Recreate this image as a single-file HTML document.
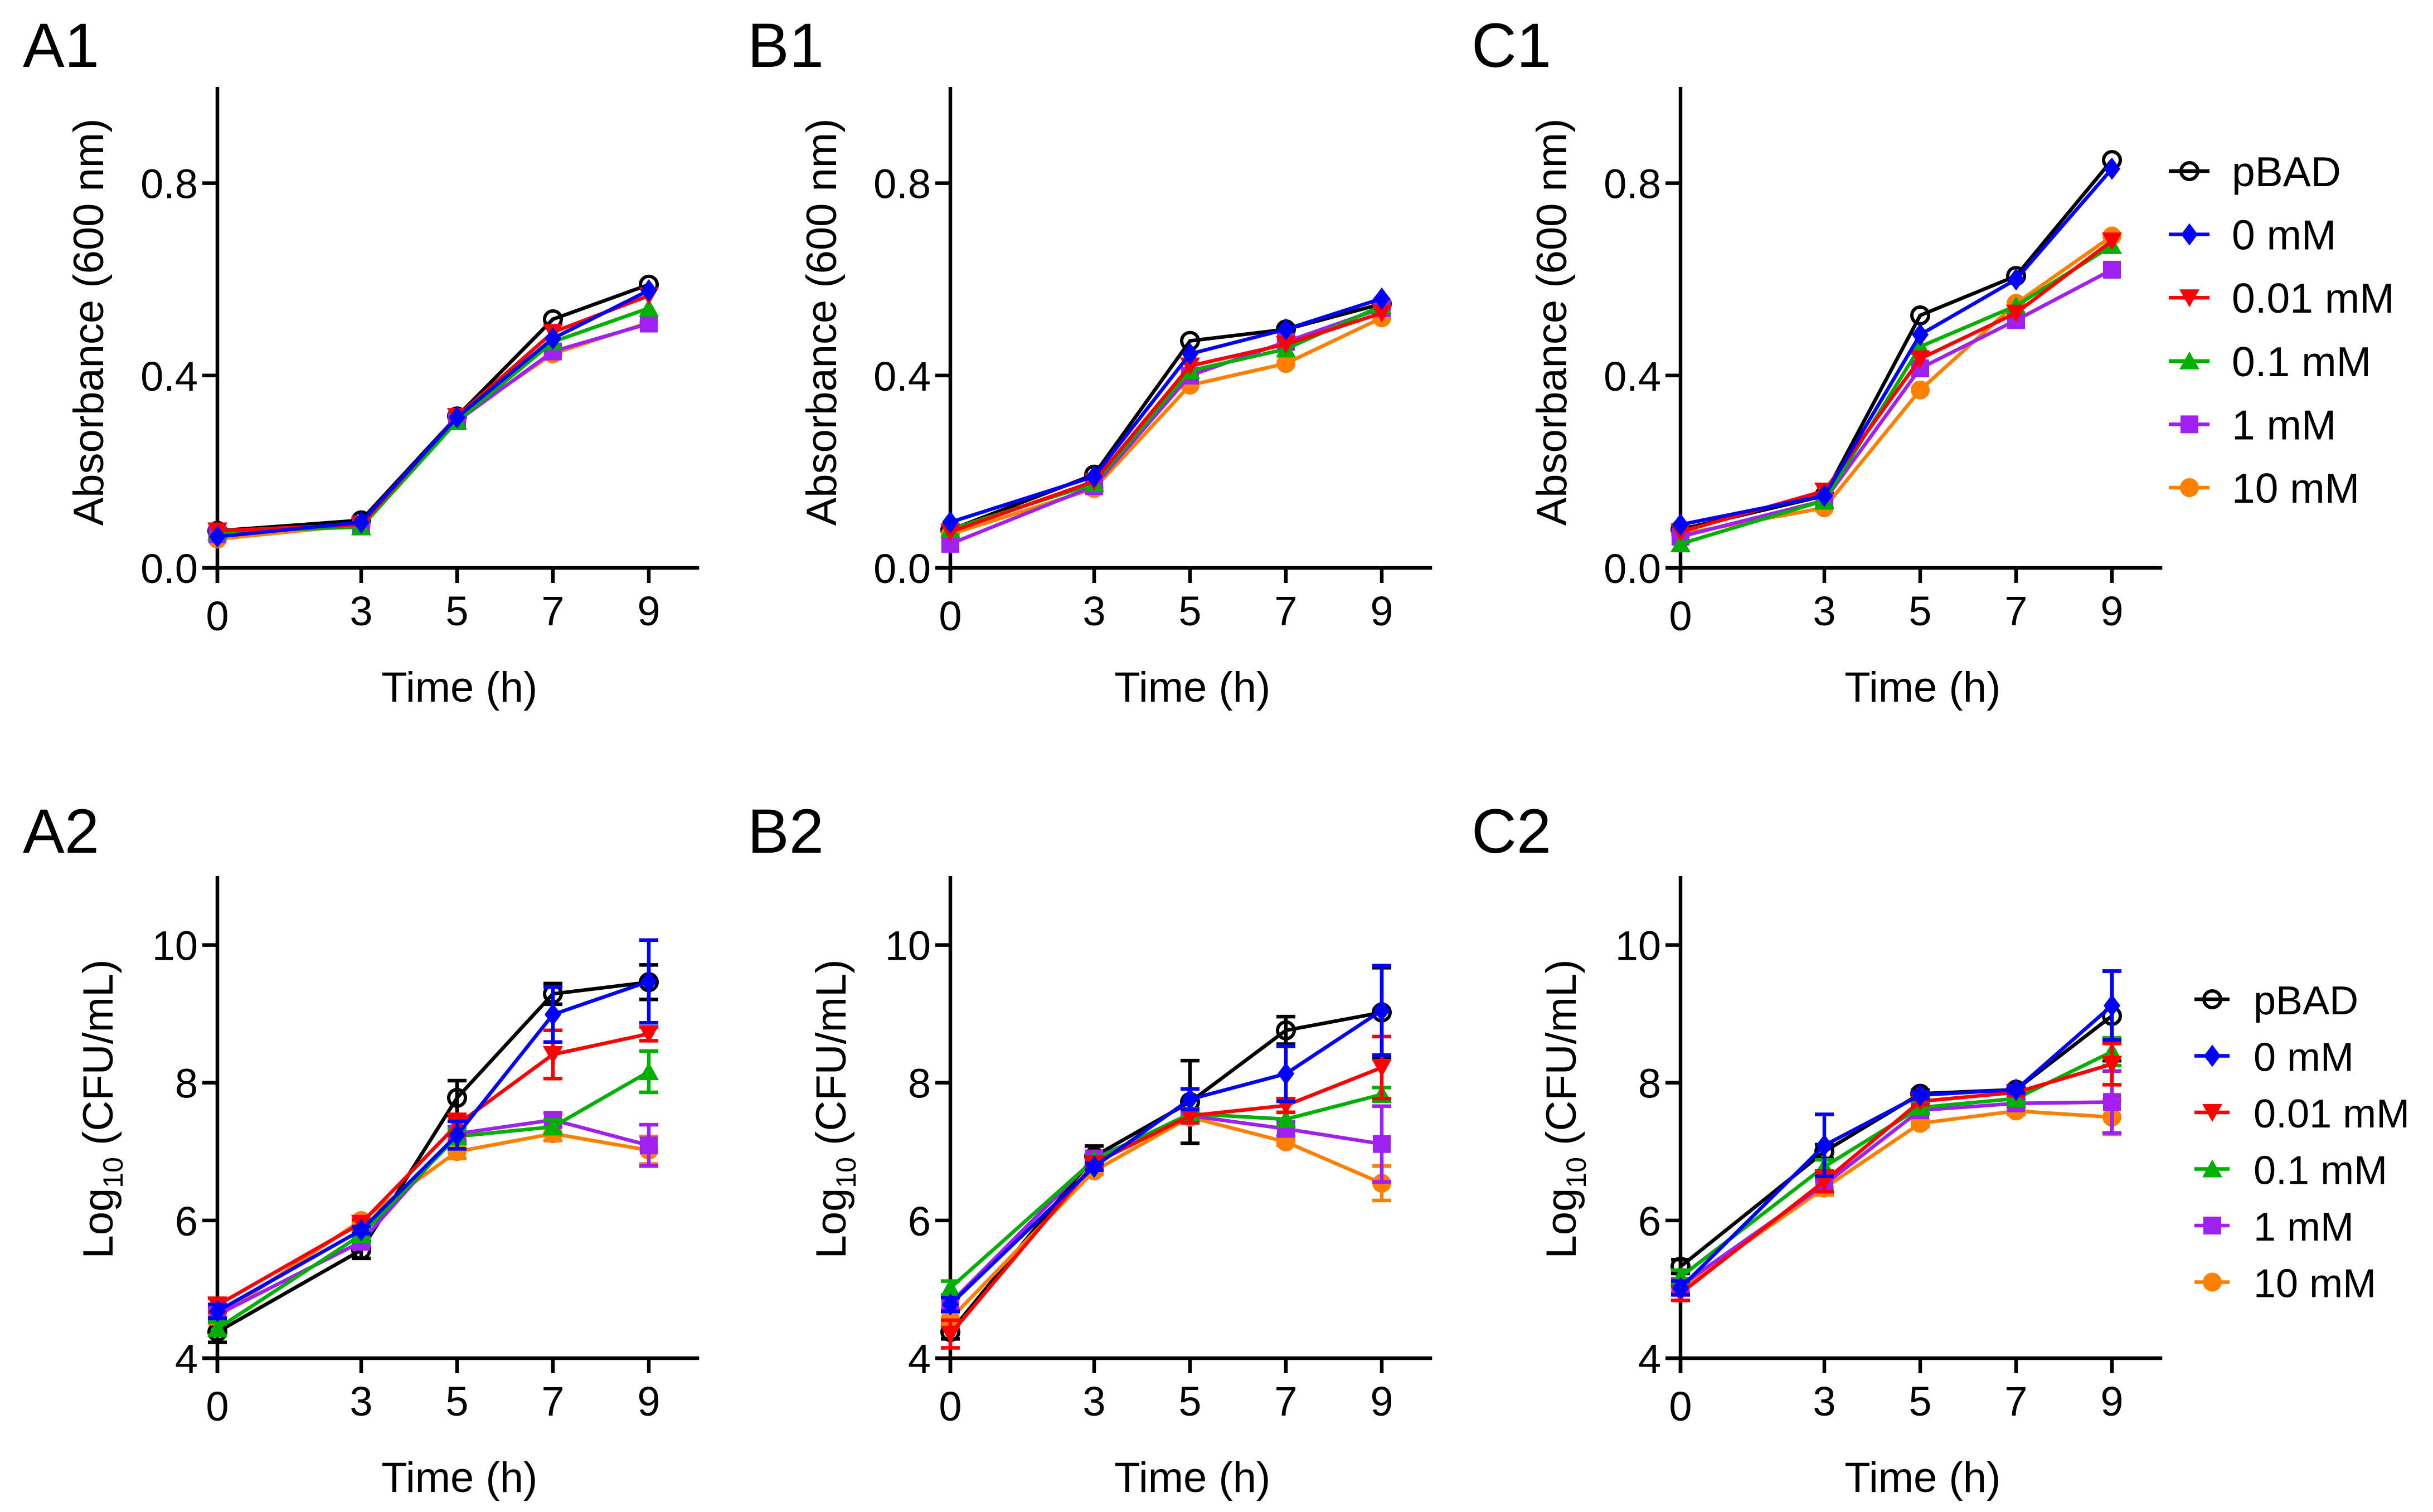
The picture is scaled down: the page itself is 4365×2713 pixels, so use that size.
<!DOCTYPE html>
<html><head><meta charset="utf-8"><style>
html,body{margin:0;padding:0;background:#fff;}
svg{display:block;font-family:"Liberation Sans",Arial,sans-serif;}
</style></head><body>
<svg id="fig" width="4365" height="2713" viewBox="0 0 4365 2713" xmlns="http://www.w3.org/2000/svg"></svg>
<script>
const times = [0, 3, 5, 7, 9];
const seriesNames = ["pBAD", "0 mM", "0.01 mM", "0.1 mM", "1 mM", "10 mM"];
const absTicks = ["0.0", "0.4", "0.8"];
const absTickValues = [0, 0.4, 0.8];
const cfuTickValues = [4, 6, 8, 10];
const xTickLabels = ["0", "3", "5", "7", "9"];

// A1 absorbance
const a1_pBAD = [0.077, 0.099, 0.315, 0.517, 0.589];
const a1_0 = [0.065, 0.095, 0.313, 0.477, 0.577];
const a1_001 = [0.077, 0.090, 0.315, 0.490, 0.566];
const a1_01 = [0.075, 0.085, 0.305, 0.470, 0.540];
const a1_1 = [0.070, 0.090, 0.305, 0.450, 0.508];
const a1_10 = [0.060, 0.090, 0.310, 0.445, 0.510];
// B1
const b1_pBAD = [0.079, 0.194, 0.472, 0.496, 0.549];
const b1_0 = [0.095, 0.190, 0.445, 0.496, 0.560];
const b1_001 = [0.075, 0.180, 0.420, 0.465, 0.530];
const b1_01 = [0.080, 0.175, 0.410, 0.455, 0.545];
const b1_1 = [0.050, 0.170, 0.400, 0.470, 0.540];
const b1_10 = [0.070, 0.165, 0.380, 0.425, 0.520];
// C1
const c1_pBAD = [0.080, 0.150, 0.525, 0.607, 0.848];
const c1_0 = [0.090, 0.150, 0.485, 0.600, 0.830];
const c1_001 = [0.075, 0.160, 0.435, 0.530, 0.680];
const c1_01 = [0.050, 0.140, 0.460, 0.545, 0.670];
const c1_1 = [0.065, 0.140, 0.415, 0.515, 0.620];
const c1_10 = [0.070, 0.125, 0.370, 0.550, 0.690];
// A2 log CFU
const a2_pBAD = [4.38, 5.57, 7.78, 9.29, 9.46];
const a2_0 = [4.68, 5.86, 7.24, 8.99, 9.47];
const a2_001 = [4.77, 5.96, 7.39, 8.41, 8.71];
const a2_01 = [4.43, 5.79, 7.22, 7.36, 8.16];
const a2_1 = [4.63, 5.69, 7.26, 7.46, 7.09];
const a2_10 = [4.60, 6.00, 7.00, 7.26, 7.02];
const a2e_pBAD = [0.15, 0.12, 0.25, 0.15, 0.25];
const a2e_0 = [0.10, 0.05, 0.20, 0.40, 0.60];
const a2e_001 = [0.10, 0.05, 0.15, 0.35, 0.10];
const a2e_01 = [0.10, 0.05, 0.10, 0.10, 0.30];
const a2e_1 = [0.10, 0.05, 0.10, 0.10, 0.30];
const a2e_10 = [0.10, 0.05, 0.10, 0.10, 0.20];
// B2
const b2_pBAD = [4.38, 6.93, 7.72, 8.76, 9.02];
const b2_0 = [4.78, 6.78, 7.76, 8.13, 9.05];
const b2_001 = [4.35, 6.83, 7.52, 7.67, 8.22];
const b2_01 = [5.02, 6.88, 7.55, 7.47, 7.83];
const b2_1 = [4.80, 6.90, 7.52, 7.33, 7.11];
const b2_10 = [4.57, 6.72, 7.50, 7.14, 6.54];
const b2e_pBAD = [0.10, 0.15, 0.60, 0.20, 0.65];
const b2e_0 = [0.10, 0.05, 0.15, 0.40, 0.65];
const b2e_001 = [0.20, 0.05, 0.10, 0.10, 0.45];
const b2e_01 = [0.10, 0.05, 0.05, 0.10, 0.10];
const b2e_1 = [0.10, 0.05, 0.05, 0.10, 0.55];
const b2e_10 = [0.10, 0.05, 0.05, 0.05, 0.25];
// C2
const c2_pBAD = [5.33, 7.00, 7.84, 7.90, 8.97];
const c2_0 = [5.02, 7.09, 7.82, 7.90, 9.12];
const c2_001 = [4.94, 6.57, 7.73, 7.86, 8.27];
const c2_01 = [5.18, 6.78, 7.64, 7.77, 8.45];
const c2_1 = [5.05, 6.52, 7.60, 7.70, 7.72];
const c2_10 = [5.02, 6.47, 7.41, 7.59, 7.50];
const c2e_pBAD = [0.10, 0.10, 0.05, 0.05, 0.65];
const c2e_0 = [0.10, 0.45, 0.05, 0.05, 0.50];
const c2e_001 = [0.10, 0.15, 0.05, 0.05, 0.30];
const c2e_01 = [0.10, 0.10, 0.05, 0.05, 0.20];
const c2e_1 = [0.10, 0.10, 0.05, 0.05, 0.45];
const c2e_10 = [0.10, 0.10, 0.05, 0.05, 0.25];

const colors = ["#000000", "#0000ff", "#ff0000", "#00b000", "#a020f0", "#ff8000"];
const shapes = ["circle", "diamond", "tri-down", "tri-up", "square", "dot"];
const NS = "http://www.w3.org/2000/svg";
const svg = document.getElementById("fig");
const LW = 6.5;
function mk(tag, attrs, parent) {
  const e = document.createElementNS(NS, tag);
  for (const k in attrs) e.setAttribute(k, attrs[k]);
  (parent || svg).appendChild(e);
  return e;
}
function marker(g, shape, cx, cy, col) {
  let m;
  if (shape === "circle") m = mk("circle", {cx: cx, cy: cy, r: 15, fill: "none", stroke: col, "stroke-width": 6}, g);
  else if (shape === "dot") m = mk("circle", {cx: cx, cy: cy, r: 17, fill: col}, g);
  else if (shape === "square") m = mk("rect", {x: cx - 16, y: cy - 16, width: 32, height: 32, fill: col}, g);
  else if (shape === "diamond") m = mk("polygon", {points: `${cx},${cy-20} ${cx+15},${cy} ${cx},${cy+20} ${cx-15},${cy}`, fill: col}, g);
  else if (shape === "tri-down") m = mk("polygon", {points: `${cx-18},${cy-15} ${cx+18},${cy-15} ${cx},${cy+17}`, fill: col}, g);
  else m = mk("polygon", {points: `${cx-18},${cy+15} ${cx+18},${cy+15} ${cx},${cy-17}`, fill: col}, g);
  
  
}

function panel(opt) {
  const g = mk("g", {});
  
  
  const ox = opt.ox, pxh = 86;
  const sx = t => ox + t * pxh;
  const sy = v => opt.y0 - (v - opt.vmin) / (opt.vmax - opt.vmin) * (opt.y0 - opt.ytop);
  const lab = mk("text", {x: opt.lx, y: opt.ly, "font-size": 112}, g);
  lab.textContent = opt.label;
  
  
  const ya = mk("line", {x1: ox, y1: opt.ytop, x2: ox, y2: opt.y0 + 27, stroke: "#000", "stroke-width": 6.5}, g);
  
  
  const xa = mk("line", {x1: ox - 27, y1: opt.y0, x2: sx(10.05), y2: opt.y0, stroke: "#000", "stroke-width": 6.5}, g);
  
  
  opt.yticks.forEach((v, i) => {
    mk("line", {x1: ox - 27, y1: sy(v), x2: ox, y2: sy(v), stroke: "#000", "stroke-width": 6.5}, g);
    const t = mk("text", {x: ox - 35, y: sy(v) + 27, "font-size": 74, "text-anchor": "end"}, g);
    t.textContent = opt.ylabels[i];
    
    
  });
  times.forEach((tm, i) => {
    mk("line", {x1: sx(tm), y1: opt.y0, x2: sx(tm), y2: opt.y0 + 27, stroke: "#000", "stroke-width": 6.5}, g);
    const t = mk("text", {x: sx(tm), y: opt.y0 + (i === 0 ? 112 : 103), "font-size": 74, "text-anchor": "middle"}, g);
    t.textContent = xTickLabels[i];
    
    
  });
  const xt = mk("text", {x: sx(5.05), y: opt.y0 + 240, "font-size": 76, "text-anchor": "middle"}, g);
  xt.textContent = "Time (h)";
  
  
  const ycx = ox - opt.ytx, ycy = opt.ytcy;
  const yt = mk("text", {x: ycx, y: ycy, "font-size": 76, "text-anchor": "middle", transform: `rotate(-90 ${ycx} ${ycy})`}, g);
  
  
  if (opt.log) {
    yt.appendChild(document.createTextNode("Log"));
    const s = mk("tspan", {"font-size": 50, dy: 18}, yt); s.textContent = "10";
    const r = mk("tspan", {dy: -18}, yt); r.textContent = " (CFU/mL)";
  } else yt.textContent = "Absorbance (600 nm)";
  const order = [0, 5, 4, 3, 2, 1];
  order.forEach(si => {
    const vals = opt.data[si], col = colors[si];
    const sg = mk("g", {}, g);
    
    
    if (opt.err) {
      const er = opt.err[si];
      vals.forEach((v, i) => {
        const x = sx(times[i]);
        mk("line", {x1: x, y1: sy(v - er[i]), x2: x, y2: sy(v + er[i]), stroke: col, "stroke-width": LW}, sg);
        mk("line", {x1: x - 17, y1: sy(v + er[i]), x2: x + 17, y2: sy(v + er[i]), stroke: col, "stroke-width": LW}, sg);
        mk("line", {x1: x - 17, y1: sy(v - er[i]), x2: x + 17, y2: sy(v - er[i]), stroke: col, "stroke-width": LW}, sg);
      });
    }
    const pts = vals.map((v, i) => sx(times[i]) + "," + sy(v)).join(" ");
    const pl = mk("polyline", {points: pts, fill: "none", stroke: col, "stroke-width": LW, "stroke-linejoin": "round"}, sg);
    
    
    vals.forEach((v, i) => marker(sg, shapes[si], sx(times[i]), sy(v), col));
  });
}
function legend(mx, x1, x2, tx, y0, dy, fs) {
  const g = mk("g", {});
  
  
  seriesNames.forEach((n, i) => {
    const y = y0 + i * dy;
    const eg = mk("g", {}, g);
    
    
    mk("line", {x1: x1, y1: y, x2: x2, y2: y, stroke: colors[i], "stroke-width": LW}, eg);
    marker(eg, shapes[i], mx, y, colors[i]);
    const t = mk("text", {x: tx, y: y + 27, "font-size": fs}, eg);
    t.textContent = n;
  });
}
const topCfg = {y0: 1019, ytop: 156, vmin: 0, vmax: 1.0, yticks: absTickValues, ylabels: absTicks, ytx: 205, ytcy: 578, log: false};
const botCfg = {y0: 2437, ytop: 1572, vmin: 4, vmax: 11, yticks: cfuTickValues, ylabels: cfuTickValues.map(String), ytx: 188, ytcy: 1990, log: true};
panel(Object.assign({}, topCfg, {label: "A1", ox: 390, lx: 41, ly: 120, data: [a1_pBAD, a1_0, a1_001, a1_01, a1_1, a1_10]}));
panel(Object.assign({}, topCfg, {label: "B1", ox: 1705, lx: 1341, ly: 120, data: [b1_pBAD, b1_0, b1_001, b1_01, b1_1, b1_10]}));
panel(Object.assign({}, topCfg, {label: "C1", ox: 3015, lx: 2640, ly: 120, data: [c1_pBAD, c1_0, c1_001, c1_01, c1_1, c1_10]}));
panel(Object.assign({}, botCfg, {label: "A2", ox: 390, lx: 41, ly: 1530, data: [a2_pBAD, a2_0, a2_001, a2_01, a2_1, a2_10], err: [a2e_pBAD, a2e_0, a2e_001, a2e_01, a2e_1, a2e_10]}));
panel(Object.assign({}, botCfg, {label: "B2", ox: 1705, lx: 1341, ly: 1530, data: [b2_pBAD, b2_0, b2_001, b2_01, b2_1, b2_10], err: [b2e_pBAD, b2e_0, b2e_001, b2e_01, b2e_1, b2e_10]}));
panel(Object.assign({}, botCfg, {label: "C2", ox: 3015, lx: 2640, ly: 1530, data: [c2_pBAD, c2_0, c2_001, c2_01, c2_1, c2_10], err: [c2e_pBAD, c2e_0, c2e_001, c2e_01, c2e_1, c2e_10]}));
legend(3928, 3891, 3964, 4004, 307, 113.6, 75);
legend(3969, 3937, 4000, 4043, 1793, 101.5, 72);
</script>
</body></html>
